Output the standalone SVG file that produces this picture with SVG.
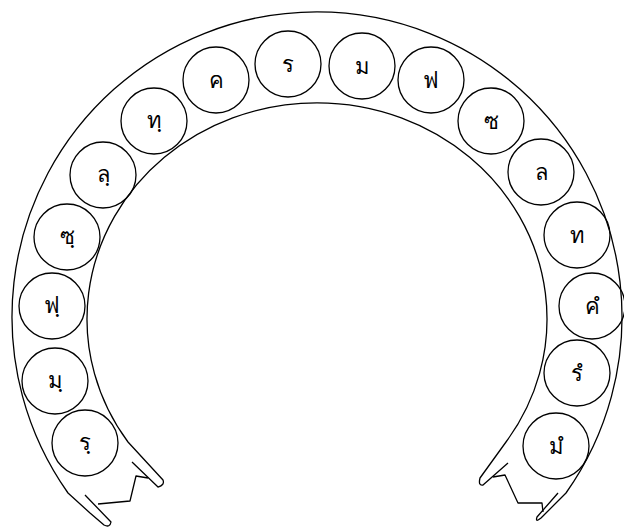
<svg xmlns="http://www.w3.org/2000/svg" width="624" height="530" viewBox="0 0 624 530">
<style>
.ln{fill:none;stroke:#000;stroke-width:1.3;stroke-linejoin:round}
.n circle{fill:none;stroke:#000;stroke-width:1.3}
.n text{font-family:"Noto Sans","DejaVu Sans","Liberation Sans",sans-serif;font-size:22px;text-anchor:middle;fill:#000}
</style>
<rect width="624" height="530" fill="#fff"/>
<g id="connectors">
<path class="ln" d="M 85 495 L 111 522 Q 110 528 104 525 L 90 513 L 68 493 A 305 305 0 1 1 566 493 L 541 518 Q 535 523 537 517 L 558 493"/>
<path class="ln" d="M 132 462 L 158 487 Q 165 485 163 480 L 128 442 A 230 216 0 1 1 506 442 L 480 478 Q 478 486 483 485 L 508 463"/>
<polyline class="ln" points="98,504 130,501 136,476 148,478"/>
<polyline class="ln" points="493,477 505,475 518,503 542,503 543,512"/>
</g>
<g id="n1" class="n"><circle cx="85" cy="443" r="33"/><text x="85" y="450">รฺ</text></g>
<g id="n2" class="n"><circle cx="55" cy="381" r="33"/><text x="55" y="388">มฺ</text></g>
<g id="n3" class="n"><circle cx="52" cy="306" r="33"/><text x="52" y="313">ฟฺ</text></g>
<g id="n4" class="n"><circle cx="67" cy="237" r="33"/><text x="67" y="244">ซฺ</text></g>
<g id="n5" class="n"><circle cx="103" cy="175" r="33"/><text x="103" y="182">ลฺ</text></g>
<g id="n6" class="n"><circle cx="154" cy="121" r="33"/><text x="154" y="128">ทฺ</text></g>
<g id="n7" class="n"><circle cx="216" cy="80" r="33"/><text x="216" y="88">ค</text></g>
<g id="n8" class="n"><circle cx="288" cy="64" r="33"/><text x="288" y="72">ร</text></g>
<g id="n9" class="n"><circle cx="362" cy="66" r="33"/><text x="362" y="74">ม</text></g>
<g id="n10" class="n"><circle cx="431" cy="80" r="33"/><text x="431" y="88">ฟ</text></g>
<g id="n11" class="n"><circle cx="491" cy="121" r="33"/><text x="491" y="129">ซ</text></g>
<g id="n12" class="n"><circle cx="541" cy="172" r="33"/><text x="541" y="180">ล</text></g>
<g id="n13" class="n"><circle cx="577" cy="235" r="33"/><text x="577" y="243">ท</text></g>
<g id="n14" class="n"><circle cx="592" cy="306" r="33"/><text x="592" y="314">คํ</text></g>
<g id="n15" class="n"><circle cx="577" cy="373" r="33"/><text x="577" y="381">รํ</text></g>
<g id="n16" class="n"><circle cx="556" cy="446" r="33"/><text x="556" y="454">มํ</text></g>
</svg>
